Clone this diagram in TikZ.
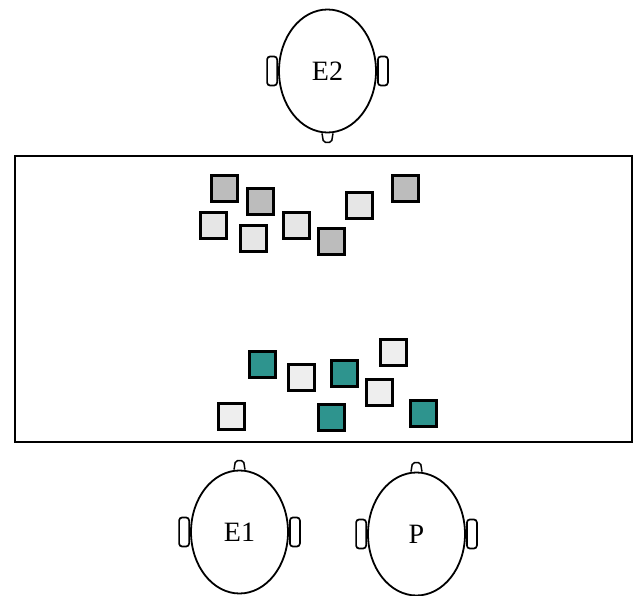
\documentclass[tikz,border=0pt]{standalone}
\usepackage{fontspec}
\setmainfont{Liberation Serif}
\usetikzlibrary{shapes.geometric}
\definecolor{tiledark}{RGB}{188,188,188}
\definecolor{tilelight}{RGB}{230,230,230}
\definecolor{tilepale}{RGB}{238,238,238}
\definecolor{tileteal}{RGB}{46,148,142}
\tikzset{
  head/.style={draw, ellipse, line width=1.8pt, minimum width=97pt, minimum height=123pt,
    inner sep=0pt, font=\fontsize{28}{28}\selectfont},
  ear/.style={draw, line width=1.7pt, rounded corners=3pt, minimum width=10pt,
    minimum height=29pt, inner sep=0pt, fill=white},
  nose/.style={line width=1.5pt, rounded corners=2pt},
  tile/.style={draw, line width=3pt, minimum size=26pt, inner sep=0pt},
  dark/.style={tile, fill=tiledark},
  light/.style={tile, fill=tilelight},
  pale/.style={tile, fill=tilepale},
  teal/.style={tile, fill=tileteal},
}
\begin{document}
\begin{tikzpicture}[x=1pt, y=-1pt]
\useasboundingbox (0,0) rectangle (635,596);

% table
\draw[line width=1.8pt] (15,156) rectangle (632,442);

% heads
\node[head] (e2) at (327.5,71) {E2};
\node[head] (e1) at (239.5,532) {E1};
\node[head] (p)  at (416.5,534) {P};

% ears
\foreach \h in {e2,e1,p}{
  \node[ear] (\h-lear) at ([xshift=-6pt]\h.west) {};
  \node[ear] (\h-rear) at ([xshift=6pt]\h.east) {};
}

% noses
\draw[nose] ([xshift=-5.5pt]e2.south) -- ++(1.5,9) -- ++(8,0) -- ++(1.5,-9);
\draw[nose] ([xshift=-5.5pt]e1.north) -- ++(1.5,-9) -- ++(8,0) -- ++(1.5,9);
\draw[nose] ([xshift=-5.5pt]p.north) -- ++(1.5,-9) -- ++(8,0) -- ++(1.5,9);

% objects on the far side
\node[dark]  (a1) at (224,189) {};
\node[dark]  (a2) at (260,202) {};
\node[light] (a3) at (213,226) {};
\node[light] (a4) at (253,239) {};
\node[light] (a5) at (296,226) {};
\node[dark]  (a6) at (331,242) {};
\node[light] (a7) at (359,206) {};
\node[dark]  (a8) at (405,189) {};

% objects on the near side
\node[teal] (b1) at (262,364) {};
\node[pale] (b2) at (301,377) {};
\node[teal] (b3) at (344,373) {};
\node[pale] (b4) at (393,352) {};
\node[pale] (b5) at (379,392) {};
\node[pale] (b6) at (231,416) {};
\node[teal] (b7) at (331,417) {};
\node[teal] (b8) at (423,413) {};
\end{tikzpicture}
\end{document}
